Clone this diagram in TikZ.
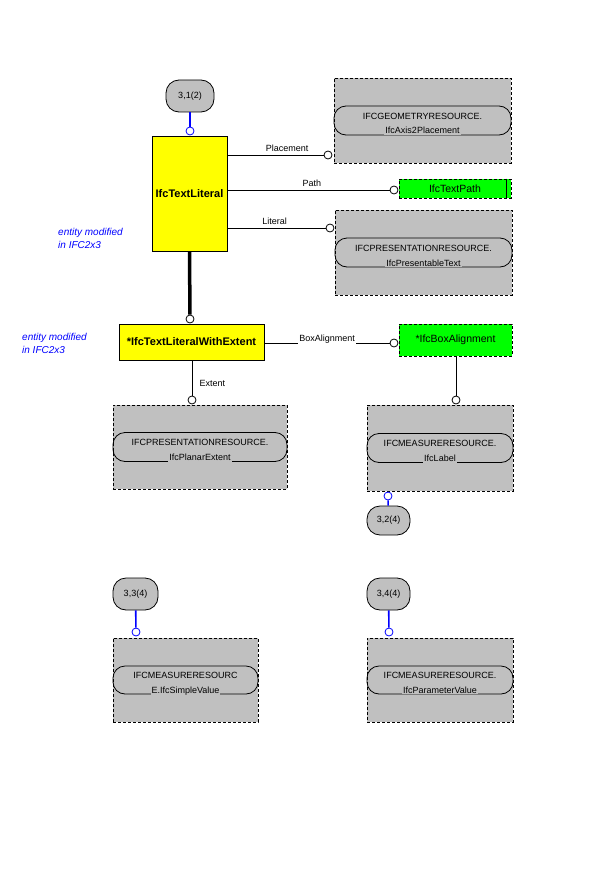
\documentclass[tikz,border=0pt]{standalone}
\usepackage{fontspec}
\setmainfont{Liberation Sans}
\usetikzlibrary{positioning}

\definecolor{resgray}{RGB}{192,192,192}
\definecolor{entyellow}{RGB}{255,255,0}
\definecolor{entgreen}{RGB}{0,255,0}
\definecolor{noteblue}{RGB}{0,0,255}

\tikzset{
  entity/.style={draw, line width=0.9pt, fill=entyellow, inner sep=0pt,
    font=\bfseries\fontsize{11}{13}\selectfont},
  choice/.style={draw, line width=0.8pt, dash pattern=on 3pt off 2pt, fill=entgreen,
    inner sep=0pt, font=\fontsize{10.5}{12}\selectfont},
  resource/.style={draw, line width=0.8pt, dash pattern=on 3pt off 2pt, fill=resgray,
    inner sep=0pt},
  schema/.style={draw, line width=0.8pt, rounded corners=12pt, inner sep=0pt},
  restext/.style={fill=resgray, inner sep=1pt, font=\fontsize{9}{10}\selectfont},
  pageref/.style={draw, line width=0.8pt, fill=resgray, rounded corners=13pt,
    inner sep=0pt, font=\fontsize{9}{10}\selectfont},
  hub/.style={circle, draw, line width=0.8pt, fill=white, inner sep=0pt, minimum size=8pt},
  refhub/.style={hub, draw=noteblue},
  attr/.style={font=\fontsize{9}{10}\selectfont},
  note/.style={text=noteblue, align=left, inner sep=0pt,
    font=\itshape\fontsize{10}{13}\selectfont},
  link/.style={line width=0.8pt},
  reflink/.style={draw=noteblue, line width=1.6pt},
}

\begin{document}
\begin{tikzpicture}[x=1pt, y=-1pt]
  \useasboundingbox (0,0) rectangle (600,888);

  % entities
  \node[entity, minimum width=75pt, minimum height=115pt] (lit) at (189.5,193.5) {IfcTextLiteral};
  \node[entity, minimum width=145pt, minimum height=36pt] (ext) at (191.5,342) {*IfcTextLiteralWithExtent};
  \node[choice, minimum width=112pt, minimum height=19pt] (txtpath) at (455,188.5) {IfcTextPath};
  \draw[line width=0.8pt] ([xshift=-5pt]txtpath.north east) -- ([xshift=-5pt]txtpath.south east);
  \node[choice, minimum width=113pt, minimum height=32pt] (boxalign) at (455.5,340) {*IfcBoxAlignment};

  % notes
  \node[note, anchor=west] (note1) at (58,238.5) {entity modified\\in IFC2x3};
  \node[note, anchor=west] (note2) at (22,343) {entity modified\\in IFC2x3};

  % resource boxes
  \node[resource, preaction={draw=entyellow, line width=0.8pt}, minimum width=177pt, minimum height=85pt] (geom) at (422.5,120.5) {};
  \node[schema, minimum width=177pt, minimum height=29pt] (geomS) at (geom.center) {};
  \node[restext] (geomA) at ([yshift=4.5pt]geom.center) {IFCGEOMETRYRESOURCE.};
  \node[restext, anchor=base] (geomB) at ([yshift=-13.5pt]geom.center) {IfcAxis2Placement};

  \node[resource, minimum width=177pt, minimum height=85pt] (pres) at (423.5,252.5) {};
  \node[schema, minimum width=177pt, minimum height=29pt] (presS) at (pres.center) {};
  \node[restext] (presA) at ([yshift=4.5pt]pres.center) {IFCPRESENTATIONRESOURCE.};
  \node[restext, anchor=base] (presB) at ([yshift=-13.5pt]pres.center) {IfcPresentableText};

  \node[resource, minimum width=174pt, minimum height=84pt] (planar) at (200,447) {};
  \node[schema, minimum width=174pt, minimum height=29pt] (planarS) at (planar.center) {};
  \node[restext] (planarA) at ([yshift=4.5pt]planar.center) {IFCPRESENTATIONRESOURCE.};
  \node[restext, anchor=base] (planarB) at ([yshift=-13.5pt]planar.center) {IfcPlanarExtent};

  \node[resource, minimum width=146pt, minimum height=86pt] (label) at (440,448) {};
  \node[schema, minimum width=146pt, minimum height=29pt] (labelS) at (label.center) {};
  \node[restext] (labelA) at ([yshift=4.5pt]label.center) {IFCMEASURERESOURCE.};
  \node[restext, anchor=base] (labelB) at ([yshift=-13.5pt]label.center) {IfcLabel};

  \node[resource, minimum width=145pt, minimum height=84pt] (simple) at (185.5,680) {};
  \node[schema, minimum width=145pt, minimum height=28pt] (simpleS) at (simple.center) {};
  \node[restext] (simpleA) at ([yshift=4.5pt]simple.center) {IFCMEASURERESOURC};
  \node[restext, anchor=base] (simpleB) at ([yshift=-13pt]simple.center) {E.IfcSimpleValue};

  \node[resource, minimum width=146pt, minimum height=84pt] (param) at (440,680) {};
  \node[schema, minimum width=146pt, minimum height=28pt] (paramS) at (param.center) {};
  \node[restext] (paramA) at ([yshift=4.5pt]param.center) {IFCMEASURERESOURCE.};
  \node[restext, anchor=base] (paramB) at ([yshift=-13pt]param.center) {IfcParameterValue};

  % page references
  \node[pageref, minimum width=48pt, minimum height=32pt] (ref312) at (190,96) {3,1(2)};
  \node[pageref, minimum width=43pt, minimum height=29pt] (ref324) at (388.5,520.5) {3,2(4)};
  \node[pageref, minimum width=45pt, minimum height=32pt] (ref334) at (135.5,594) {3,3(4)};
  \node[pageref, minimum width=43pt, minimum height=32pt] (ref344) at (388.5,594) {3,4(4)};

  % hubs
  \node[refhub] (hLit) at (190,131) {};
  \node[hub] (hPlace) at (328,155) {};
  \node[hub] (hPath) at (394,190) {};
  \node[hub] (hLiteral) at (330,228) {};
  \node[hub] (hExt) at (190,319) {};
  \node[hub] (hBox) at (394,343) {};
  \node[hub] (hExtent) at (192,400) {};
  \node[hub] (hLabel) at (456,400) {};
  \node[refhub] (hRef324) at (388,496) {};
  \node[refhub] (hSimple) at (136,632) {};
  \node[refhub] (hParam) at (389,632) {};

  % connectors
  \draw[reflink] (ref312) -- (hLit);
  \draw[link] (lit.east |- hPlace) -- node[attr, above, pos=0.62] (aPlace) {Placement} (hPlace);
  \draw[link] (lit.east |- hPath) -- node[attr, above, pos=0.52] (aPath) {Path} (hPath);
  \draw[link] (lit.east |- hLiteral) -- node[attr, above, pos=0.48] (aLiteral) {Literal} (hLiteral);
  \draw[line width=3.5pt] (lit.south) -- (hExt);
  \draw[link] (ext.east |- hBox) -- node[attr, fill=white, inner sep=1.5pt, yshift=4pt, pos=0.5] (aBox) {BoxAlignment} (hBox);
  \draw[link] (hExtent |- ext.south) -- node[attr, right, xshift=4pt, pos=0.64] (aExtent) {Extent} (hExtent);
  \draw[link] (hLabel |- boxalign.south) -- (hLabel);
  \draw[reflink] (hRef324) -- (ref324);
  \draw[reflink] (ref334) -- (hSimple);
  \draw[reflink] (ref344) -- (hParam);
\end{tikzpicture}
\end{document}
